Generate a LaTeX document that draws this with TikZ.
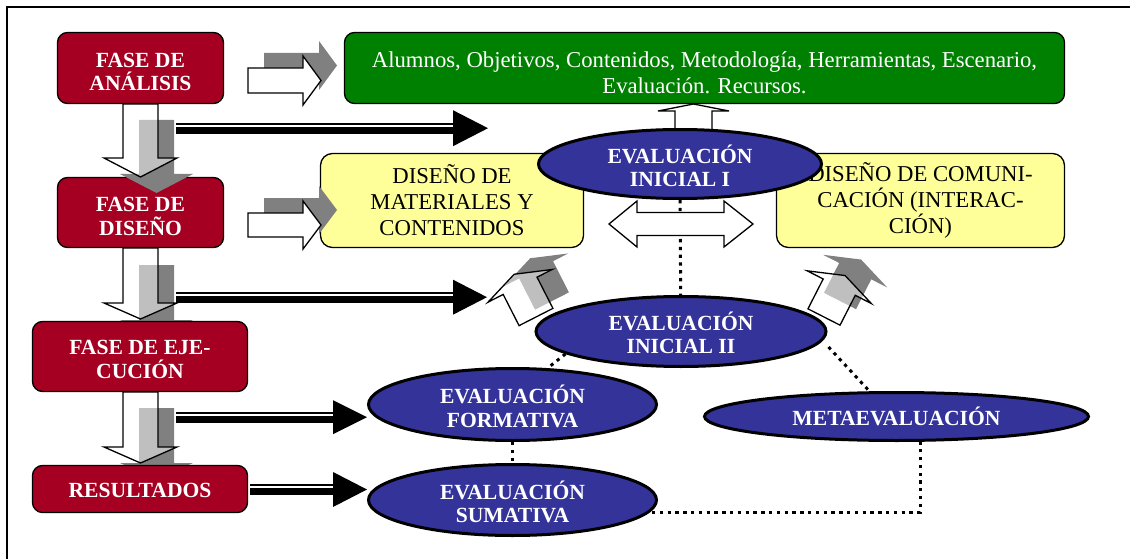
\documentclass[tikz,border=0pt]{standalone}
\usepackage{fontspec}
\setmainfont{Liberation Serif}
\usetikzlibrary{shapes.geometric,calc}
\definecolor{phasered}{HTML}{A50021}
\definecolor{listgreen}{HTML}{008000}
\definecolor{designyellow}{HTML}{FFFF99}
\definecolor{evalblue}{HTML}{333399}
\definecolor{shadowdark}{HTML}{808080}

\newcommand\stripearrow[5]{%
  \fill ({#1},{#4}) rectangle ({#2},{#4+11});
  \fill[white] ({#1},{#4+2}) rectangle ({#2},{#4+4.3});
  \fill ({#2},{#4+5.5-#5}) -- ({#3},{#4+5.5}) -- ({#2},{#4+5.5+#5}) -- cycle;}

\tikzset{
 pics/blockarrow/.style n args={4}{code={\path[pic actions] (0,-#2) -- (#1,-#2) -- (#1,-#3) -- ({#1+#4},0) -- (#1,#3) -- (#1,#2) -- (0,#2) -- cycle;}},
 phasebox/.style={draw=black, line width=1.3pt, fill=phasered, rounded corners=10pt, inner sep=0pt},
 phasetext/.style={text=white, font=\bfseries\fontsize{21.6}{23.5}\selectfont, align=center, inner sep=0pt},
 greenbox/.style={draw=black, line width=1.3pt, fill=listgreen, rounded corners=10pt, inner sep=0pt},
 regtext/.style={font=\fontsize{22.7}{26}\selectfont, align=center, inner sep=0pt},
 yellowbox/.style={draw=black, line width=1.3pt, fill=designyellow, rounded corners=12pt, inner sep=0pt},
 evalell/.style={ellipse, draw=black, line width=3pt, fill=evalblue, inner sep=0pt},
 dotline/.style={line width=3pt, dash pattern=on 3.3pt off 4.5pt},
 shadowfill/.style={fill=shadowdark, draw=none},
 frontsolid/.style={fill=white, draw=black, line width=1.3pt},
 fronthalf/.style={fill=white, fill opacity=0.5, draw=black, line width=1.3pt},
}

\begin{document}
\begin{tikzpicture}[x=1pt,y=-1pt]
\useasboundingbox (0,0) rectangle (1130,559);
\fill[white] (0,0) rectangle (1130,559);
% frame
\draw[line width=2pt] (7,559) -- (7,7) -- (1130,7);

% boxes
\node[phasebox, minimum width=166pt, minimum height=71pt] (analisis) at (140.5,68) {};
\node[phasetext] (analisis-t) at (140.5,72) {FASE DE\\ANÁLISIS};
\node[phasebox, minimum width=166pt, minimum height=70pt] (diseno) at (140.5,212.5) {};
\node[phasetext] (diseno-t) at (140.5,216.5) {FASE DE\\DISEÑO};
\node[greenbox, minimum width=720pt, minimum height=71pt] (lista) at (704.5,68) {};
\node[regtext, text=white] (lista-t) at (704.5,73) {Alumnos, Objetivos, Contenidos, Metodología, Herramientas, Escenario,\\Evaluación. Recursos.};
\node[yellowbox, minimum width=263pt, minimum height=94pt] (materiales) at (452,200.5) {};
\node[regtext] (materiales-t) at (452,200) {DISEÑO DE\\MATERIALES Y\\CONTENIDOS};
\node[yellowbox, minimum width=288pt, minimum height=94pt] (comunicacion) at (920.5,200.5) {};
\node[regtext] (comunicacion-t) at (920.5,200) {DISEÑO DE COMUNI-\\CACIÓN (INTERAC-\\CIÓN)};

% shadows hidden under lower boxes
\pic[shadowfill, rotate=-90] at (156.5,265) {blockarrow={55}{17.5}{36.5}{16}};
\pic[shadowfill, rotate=-90] at (156.5,408) {blockarrow={55}{17.5}{36.5}{16}};

\node[phasebox, minimum width=215pt, minimum height=70pt] (ejecucion) at (140,356.5) {};
\node[phasetext] (ejecucion-t) at (140,359.5) {FASE DE EJE-\\CUCIÓN};
\node[phasebox, minimum width=215pt, minimum height=47pt] (resultados) at (140,489) {};
\node[phasetext] (resultados-t) at (140,490) {RESULTADOS};

% down arrows
\pic[shadowfill, rotate=-90] at (156.5,120) {blockarrow={54}{17.5}{36.5}{19}};
\pic[fronthalf, rotate=-90] at (140.5,104) {blockarrow={54}{17.5}{36.5}{19}};
\pic[fronthalf, rotate=-90] at (140.5,248) {blockarrow={55}{17.5}{36.5}{16}};
\pic[fronthalf, rotate=-90] at (140.5,392) {blockarrow={55}{17.5}{36.5}{16}};

% right arrows
\pic[shadowfill] at (264,65.5) {blockarrow={55}{12.5}{24.5}{18}};
\pic[frontsolid] at (248,80.5) {blockarrow={55}{12.5}{24.5}{18}};
\pic[shadowfill] at (264,210) {blockarrow={55}{12}{24}{18}};
\pic[frontsolid] at (248,225) {blockarrow={55}{12}{24}{18}};

% black striped arrows
\stripearrow{176}{453}{488}{122.7}{18}
\stripearrow{176}{453}{487}{291.7}{17.5}
\stripearrow{176}{333}{367}{411.7}{17}
\stripearrow{250}{333}{367}{484}{17.5}

\path (680,164) coordinate (c1);

% up arrow to list
\pic[frontsolid, rotate=90] at (693.5,132) {blockarrow={21}{18.5}{35.5}{7}};

% diagonal arrows
\pic[shadowfill, rotate=117] at (552,301) {blockarrow={35}{19}{36}{13}};
\pic[fronthalf, rotate=117] at (536,317) {blockarrow={35}{19}{36}{13}};
\pic[shadowfill, rotate=63] at (840,301) {blockarrow={33.5}{18}{36}{13}};
\pic[fronthalf, rotate=63] at (824,317) {blockarrow={33.5}{18}{36}{13}};

% ellipses
\node[evalell, minimum width=290pt, minimum height=70pt] (ini2) at (681,331.5) {};
\node[phasetext] (ini2-t) at (681,333) {EVALUACIÓN\\INICIAL II};
\node[evalell, minimum width=288pt, minimum height=72pt] (form) at (512.5,404.5) {};
\node[phasetext] (form-t) at (512.5,406.5) {EVALUACIÓN\\FORMATIVA};
\node[evalell, minimum width=288pt, minimum height=71pt] (sum) at (512.5,500) {};
\node[phasetext] (sum-t) at (512.5,502) {EVALUACIÓN\\SUMATIVA};
\node[evalell, minimum width=384pt, minimum height=48pt] (meta) at (896.5,416.5) {};
\node[phasetext] (meta-t) at (896.5,416) {METAEVALUACIÓN};

% dotted links
\path (c1) ++(0,36) coordinate (c1s);
\draw[dotline] (c1s) -- (ini2);
\draw[dotline] (ini2.191) -- (form.46);
\draw[dotline] ($(ini2.east)+(1,15.5)$) -- (meta.137.5);
\draw[dotline] (form) -- (sum);
\draw[dotline] ($(sum.east)+(-6,12)$) -| (meta.-47.1);

% double arrow
\draw[frontsolid] (609,224) -- (637,201) -- (637,212.5) -- (724,212.5) -- (724,201) -- (753,224) -- (724,247) -- (724,235.5) -- (637,235.5) -- (637,247) -- cycle;

\node[evalell, minimum width=283pt, minimum height=69pt] (ini1) at (c1) {};
\node[phasetext] (ini1-t) at (680,166) {EVALUACIÓN\\INICIAL I};
\end{tikzpicture}
\end{document}
